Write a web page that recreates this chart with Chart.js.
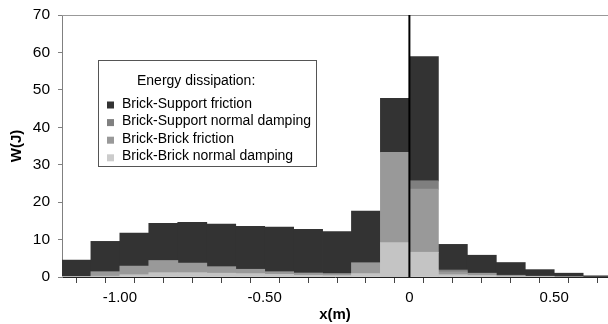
<!DOCTYPE html>
<html><head><meta charset="utf-8">
<script src="https://cdn.jsdelivr.net/npm/chart.js@4.4.1/dist/chart.umd.min.js"></script>
<style>html,body{margin:0;padding:0;background:#fff;overflow:hidden;} #c{display:block;}</style>
</head><body>
<canvas id="c" width="608" height="324"></canvas>
<script>
const binCenters = [-1.15,-1.05,-0.95,-0.85,-0.75,-0.65,-0.55,-0.45,-0.35,-0.25,-0.15,-0.05,0.05,0.15,0.25,0.35,0.45,0.55,0.65];
const brickBrickDamping    = [0.1, 0.2, 0.6, 1.15, 1.15, 1.0, 0.9, 0.7, 0.45, 0.35, 0.9, 9.2, 6.6, 0.6, 0.4, 0.1, 0.05, 0, 0];
const brickBrickFriction   = [0, 1.2, 2.3, 3.25, 2.55, 1.75, 1.15, 0.7, 0.6, 0.55, 2.9, 24.1, 16.9, 0.75, 0.6, 0.35, 0.15, 0.1, 0];
const brickSupportDamping  = [0, 0, 0, 0, 0, 0, 0, 0, 0, 0, 0, 0, 2.2, 0.5, 0, 0, 0, 0, 0];
const brickSupportFriction = [4.4, 8.1, 8.8, 9.9, 10.9, 11.35, 11.5, 11.9, 11.7, 11.2, 13.8, 14.4, 33.2, 6.85, 4.8, 3.4, 1.75, 0.9, 0.3];
const seriesNames = ['Brick-Brick normal damping','Brick-Brick friction','Brick-Support normal damping','Brick-Support friction'];
const seriesColors = ['#c4c4c4','#999999','#7f7f7f','#333333'];
const legendColors = ['#cccccc','#999999','#808080','#333333'];
const legendTitle = 'Energy dissipation:';
const xTickPositions = [-1.2,-1.1,-1.0,-0.9,-0.8,-0.7,-0.6,-0.5,-0.4,-0.3,-0.2,-0.1,0,0.1,0.2,0.3,0.4,0.5,0.6];
const xTickValues = [-1, -0.5, 0, 0.5];
const xTickLabels = ['-1.00','-0.50','0','0.50'];
const yTickValues = [0,10,20,30,40,50,60,70];
const xTitle = 'x(m)';
const yTitle = 'W(J)';

const FONT = "'Liberation Sans', Arial, sans-serif";
const seriesValues = [brickBrickDamping, brickBrickFriction, brickSupportDamping, brickSupportFriction];

// skip zero-height segments so no empty slivers are drawn
const datasets = seriesValues.map((vals, i) => ({
  label: seriesNames[i],
  data: vals.map((v, j) => ({x: binCenters[j], y: v})).filter(p => p.y > 0),
  backgroundColor: seriesColors[i],
  borderWidth: 0,
  barPercentage: 1,
  categoryPercentage: 1,
  barThickness: 'flex',
  inflateAmount: 0.4
}));

const overlay = {
  id: 'overlay',
  afterDatasetsDraw(chart) {
    const ctx = chart.ctx, a = chart.chartArea, xs = chart.scales.x;
    ctx.save();
    ctx.strokeStyle = '#999999'; ctx.lineWidth = 1;
    ctx.beginPath(); ctx.moveTo(a.left, a.top + 0.5); ctx.lineTo(a.right, a.top + 0.5); ctx.stroke();
    const x0 = xs.getPixelForValue(0);
    ctx.strokeStyle = '#000000'; ctx.lineWidth = 2;
    ctx.beginPath(); ctx.moveTo(x0, a.top); ctx.lineTo(x0, a.bottom); ctx.stroke();
    const bx = 98.5, by = 60.5, bw = 218, bh = 106;
    ctx.fillStyle = '#ffffff'; ctx.fillRect(bx, by, bw, bh);
    ctx.strokeStyle = '#555555'; ctx.lineWidth = 1; ctx.strokeRect(bx, by, bw, bh);
    ctx.fillStyle = '#000000';
    ctx.font = '14px ' + FONT;
    ctx.textBaseline = 'alphabetic'; ctx.textAlign = 'left';
    ctx.fillText(legendTitle, 137, 85);
    const n = chart.data.datasets.length;
    for (let k = 0; k < n; k++) {
      const ds = chart.data.datasets[n - 1 - k];
      const base = 107.5 + k * 17.6;
      ctx.fillStyle = legendColors[n - 1 - k];
      ctx.fillRect(107, base - 6, 7, 7);
      ctx.fillStyle = '#000000';
      ctx.fillText(ds.label, 122, base);
    }
    ctx.restore();
  }
};

new Chart(document.getElementById('c'), {
  type: 'bar',
  data: { datasets },
  plugins: [overlay],
  options: {
    responsive: false,
    animation: false,
    devicePixelRatio: 1,
    layout: { padding: { top: 15, right: 0, left: 0, bottom: 0 } },
    plugins: { legend: { display: false }, tooltip: { enabled: false } },
    scales: {
      x: {
        type: 'linear', stacked: true, min: -1.2, max: 0.686, offset: false, z: 1,
        afterBuildTicks: s => { s.ticks = xTickPositions.map(v => ({ value: v })); },
        afterFit: s => { s.height = 47; s.paddingLeft = 0; s.paddingRight = 0; },
        ticks: {
          autoSkip: false, maxRotation: 0, padding: 6, color: '#000',
          font: { family: FONT, size: 15 },
          callback: v => { const i = xTickValues.findIndex(t => Math.abs(t - v) < 1e-6); return i >= 0 ? xTickLabels[i] : ''; }
        },
        grid: { drawOnChartArea: false, drawTicks: true, tickLength: 6, color: '#444444' },
        border: { display: true, color: '#222222', width: 1 },
        title: { display: true, text: xTitle, color: '#000', font: { family: FONT, size: 15, weight: 'bold' }, padding: { top: 0, bottom: 0 } }
      },
      y: {
        stacked: true, min: 0, max: 70,
        afterBuildTicks: s => { s.ticks = yTickValues.map(v => ({ value: v })); },
        afterFit: s => { s.width = 62; s.paddingTop = 0; s.paddingBottom = 0; },
        ticks: { padding: 8, color: '#000', font: { family: FONT, size: 15.5 } },
        grid: { drawOnChartArea: false, drawTicks: true, tickLength: 4, color: '#808080' },
        border: { display: true, color: '#808080', width: 1 },
        title: { display: true, text: yTitle, color: '#000', font: { family: FONT, size: 15, weight: 'bold' }, padding: { top: 8, bottom: 0 } }
      }
    }
  }
});
</script>
</body></html>
